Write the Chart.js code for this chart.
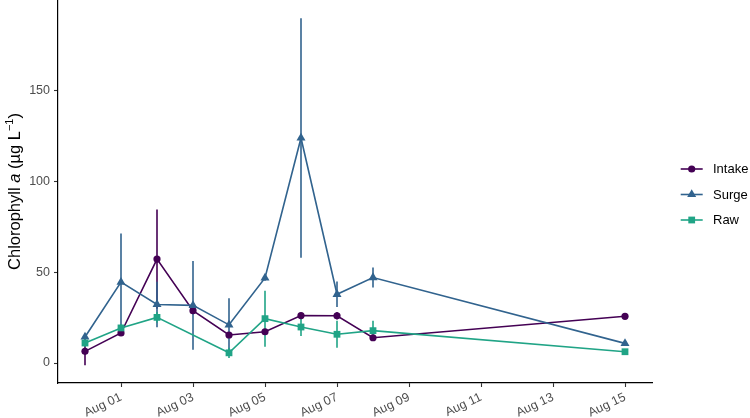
<!DOCTYPE html>
<html>
<head>
<meta charset="utf-8">
<script src="https://cdn.jsdelivr.net/npm/chart.js@4/dist/chart.umd.min.js"></script>
<style>
  html, body { margin: 0; padding: 0; background: #fff; }
  #wrap { position: relative; width: 750px; height: 418px; }
</style>
</head>
<body>
<div id="wrap"><canvas id="c" width="750" height="418"></canvas></div>
<script>
// ---- Data (day of August; Jul 31 = 0) ----
const days = [0, 1, 2, 3, 4, 5, 6, 7, 8, 15];
const seriesNames = ['Intake', 'Surge', 'Raw'];
const intake    = [6.4, 16.5, 57.2, 28.8, 15.4, 17.2, 26.1, 26.0, 13.9, 25.7];
const intakeErr = [7.7, 1.5, 27.3, 2.0, 1.5, 1.5, 1.5, 2.0, 1.0, 1.0];
const surge     = [14.3, 44.5, 32.2, 31.7, 21.0, 46.8, 123.8, 37.8, 47.0, 10.8];
const surgeErr  = [1.5, 26.7, 12.5, 24.4, 14.6, 1.5, 65.9, 7.0, 5.5, 1.0];
const raw       = [11.0, 19.3, 25.1, null, 5.6, 24.4, 19.8, 15.8, 17.8, 6.2];
const rawErr    = [2.0, 2.0, 3.0, null, 2.8, 15.4, 5.0, 7.4, 5.5, 1.0];
const xTickDays = [1, 3, 5, 7, 9, 11, 13, 15];
const xTickLabels = ['Aug 01', 'Aug 03', 'Aug 05', 'Aug 07', 'Aug 09', 'Aug 11', 'Aug 13', 'Aug 15'];
const yTicks = [0, 50, 100, 150];

const colors = ['#440154', '#31638E', '#20A486'];
const pointStyles = ['circle', 'triangle', 'rect'];
const pointRadii = [3.6, 5.2, 4.8];
const values = [intake, surge, raw];
const errors = [intakeErr, surgeErr, rawErr];
const FONT = '"Liberation Sans", Arial, Helvetica, sans-serif';

function toPoints(arr) {
  return days.map((d, i) => ({ x: d, y: arr[i] }));
}

const datasets = seriesNames.map((name, k) => ({
  label: name,
  data: toPoints(values[k]),
  borderColor: colors[k],
  backgroundColor: colors[k],
  borderWidth: 1.6,
  pointStyle: pointStyles[k],
  pointRadius: pointRadii[k],
  pointBorderWidth: 0,
  pointBackgroundColor: colors[k],
  spanGaps: true,
  tension: 0,
  order: 2 - k
}));

const errorBarPlugin = {
  id: 'errorBars',
  beforeDatasetsDraw(chart) {
    const ctx = chart.ctx;
    const xs = chart.scales.x, ys = chart.scales.y;
    ctx.save();
    ctx.lineWidth = 1.6;
    for (let k = 0; k < values.length; k++) {
      ctx.strokeStyle = colors[k];
      for (let i = 0; i < days.length; i++) {
        const v = values[k][i], e = errors[k][i];
        if (v == null || e == null) continue;
        const x = xs.getPixelForValue(days[i]);
        ctx.beginPath();
        ctx.moveTo(x, ys.getPixelForValue(v - e));
        ctx.lineTo(x, ys.getPixelForValue(v + e));
        ctx.stroke();
      }
    }
    ctx.restore();
  }
};

function drawMarker(ctx, style, x, y, r, color) {
  ctx.fillStyle = color;
  ctx.beginPath();
  if (style === 'circle') {
    ctx.arc(x, y, r, 0, Math.PI * 2);
  } else if (style === 'triangle') {
    ctx.moveTo(x, y - r);
    ctx.lineTo(x + r * Math.sin(Math.PI / 3), y + r * 0.5);
    ctx.lineTo(x - r * Math.sin(Math.PI / 3), y + r * 0.5);
    ctx.closePath();
  } else {
    const s = r * Math.SQRT1_2;
    ctx.rect(x - s, y - s, 2 * s, 2 * s);
  }
  ctx.fill();
}

const decorPlugin = {
  id: 'decor',
  afterDraw(chart) {
    const ctx = chart.ctx;
    const area = chart.chartArea;
    // Y axis title
    ctx.save();
    ctx.translate(20, (area.top + area.bottom) / 2);
    ctx.rotate(-Math.PI / 2);
    ctx.fillStyle = '#000';
    ctx.textBaseline = 'alphabetic';
    const parts = [
      { t: 'Chlorophyll ', f: '16.5px ' + FONT, dy: 0 },
      { t: 'a', f: 'italic 16.5px ' + FONT, dy: 0 },
      { t: ' (\u00B5g L', f: '16.5px ' + FONT, dy: 0 },
      { t: '\u22121', f: '11px ' + FONT, dy: -7 },
      { t: ')', f: '16.5px ' + FONT, dy: 0 }
    ];
    let total = 0;
    parts.forEach(p => { ctx.font = p.f; p.w = ctx.measureText(p.t).width; total += p.w; });
    let x = -total / 2;
    parts.forEach(p => { ctx.font = p.f; ctx.fillText(p.t, x, p.dy); x += p.w; });
    ctx.restore();

    // Legend
    ctx.save();
    const lx0 = 680.7, lx1 = 702.7, tx = 713;
    const ly = [169, 194.5, 220];
    seriesNames.forEach((name, k) => {
      ctx.strokeStyle = colors[k];
      ctx.lineWidth = 1.6;
      ctx.beginPath();
      ctx.moveTo(lx0, ly[k]);
      ctx.lineTo(lx1, ly[k]);
      ctx.stroke();
      drawMarker(ctx, pointStyles[k], (lx0 + lx1) / 2, ly[k], pointRadii[k], colors[k]);
      ctx.fillStyle = '#000';
      ctx.font = '13px ' + FONT;
      ctx.textBaseline = 'middle';
      ctx.textAlign = 'left';
      ctx.fillText(name, tx, ly[k] + 0.5);
    });
    ctx.restore();
  }
};

function zeroPad(scale) {
  scale.paddingTop = 0;
  scale.paddingBottom = 0;
  scale.paddingLeft = 0;
  scale.paddingRight = 0;
}

new Chart(document.getElementById('c'), {
  type: 'line',
  data: { datasets },
  options: {
    responsive: false,
    animation: false,
    devicePixelRatio: 1,
    layout: { autoPadding: false, padding: { top: 0, right: 98, left: 0, bottom: 0 } },
    plugins: {
      legend: { display: false },
      tooltip: { enabled: false },
      title: { display: false }
    },
    scales: {
      x: {
        type: 'linear',
        min: -0.75,
        max: 15.75,
        afterBuildTicks(axis) { axis.ticks = xTickDays.map(v => ({ value: v })); },
        afterFit(scale) { scale.height = 35; zeroPad(scale); },
        ticks: {
          autoSkip: false,
          maxRotation: 25,
          minRotation: 25,
          padding: 3,
          color: '#4D4D4D',
          font: { family: FONT, size: 12.5 },
          callback(v) { const i = xTickDays.indexOf(v); return i >= 0 ? xTickLabels[i] : ''; }
        },
        grid: { display: true, drawOnChartArea: false, drawTicks: true, tickLength: 4, tickColor: '#333', tickWidth: 1.1 },
        border: { display: true, color: '#000', width: 1.2 }
      },
      y: {
        type: 'linear',
        min: -11,
        max: 199.7,
        afterBuildTicks(axis) { axis.ticks = yTicks.map(v => ({ value: v })); },
        afterFit(scale) { scale.width = 58; zeroPad(scale); },
        ticks: {
          padding: 4,
          color: '#4D4D4D',
          font: { family: FONT, size: 12.5 }
        },
        grid: { display: true, drawOnChartArea: false, drawTicks: true, tickLength: 4, tickColor: '#333', tickWidth: 1.1 },
        border: { display: true, color: '#000', width: 1.2 }
      }
    }
  },
  plugins: [errorBarPlugin, decorPlugin]
});
</script>
</body>
</html>
